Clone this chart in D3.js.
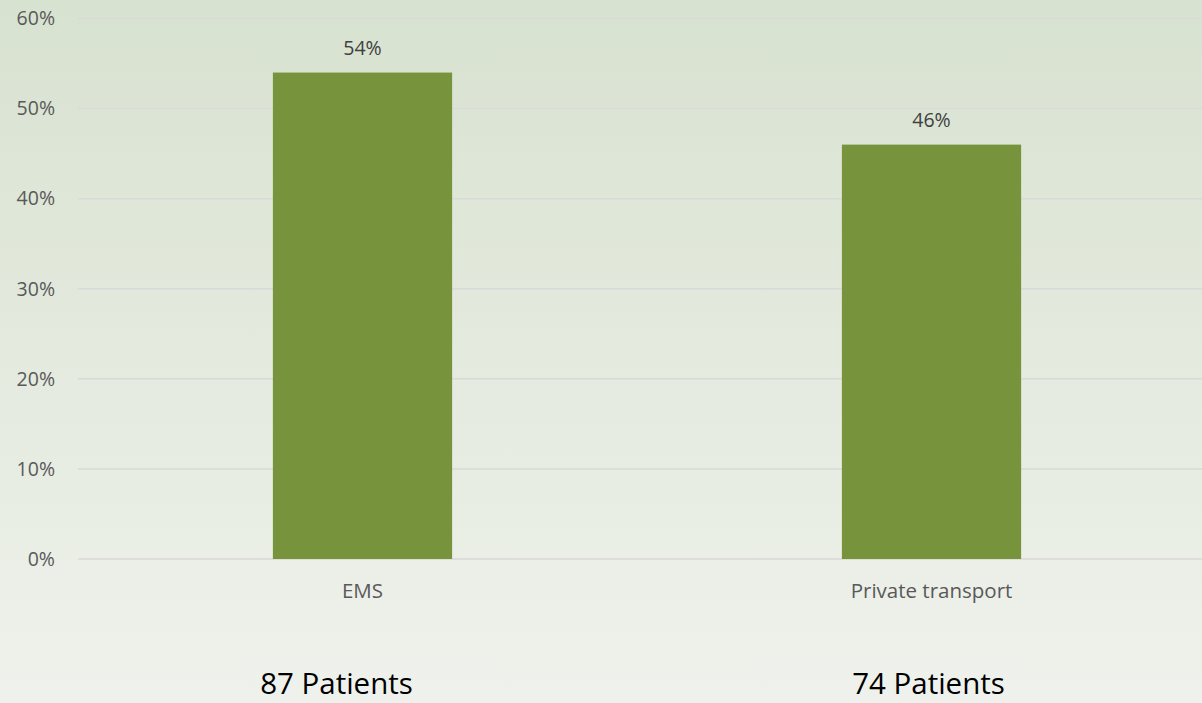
<!DOCTYPE html>
<html>
<head>
<meta charset="utf-8">
<script src="https://cdn.jsdelivr.net/npm/d3@7"></script>
<style>
  html, body { margin: 0; padding: 0; }
  body { width: 1202px; height: 703px; overflow: hidden; }
  svg { display: block; }
</style>
</head>
<body>
<svg id="chart" width="1202" height="703"></svg>
<script>
// Arrival mode share
const categories = ["EMS", "Private transport"];
const shares = [0.54, 0.46];
const patientCounts = ["87 Patients", "74 Patients"];
const yTicks = [0, 0.1, 0.2, 0.3, 0.4, 0.5, 0.6];

const W = 1202, H = 703;
const svg = d3.select("#chart");

// soft green vertical gradient background
const defs = svg.append("defs");
const grad = defs.append("linearGradient")
  .attr("id", "bg").attr("x1", 0).attr("y1", 0).attr("x2", 0).attr("y2", 1);
grad.append("stop").attr("offset", "0%").attr("stop-color", "#d8e2d0");
grad.append("stop").attr("offset", "100%").attr("stop-color", "#eff2ec");
svg.append("rect").attr("width", W).attr("height", H).attr("fill", "url(#bg)");

const x = d3.scaleBand().domain(categories).range([78, 1216]).paddingInner(0.685).paddingOuter(0.3425);
const y = d3.scaleLinear().domain([0, 0.6]).range([559, 18.5]);

const font = "'Open Sans', 'Noto Sans', sans-serif";

// gridlines
svg.append("g").selectAll("line").data(yTicks).join("line")
  .attr("x1", 78).attr("x2", W)
  .attr("y1", d => y(d)).attr("y2", d => y(d))
  .attr("stroke", "#d9d9d9").attr("stroke-width", 1.5);

// y-axis tick labels
const yAxis = d3.axisLeft(y).tickValues(yTicks).tickFormat(d3.format(".0%")).tickSize(0).tickPadding(0);
const gy = svg.append("g").attr("transform", "translate(55,0)").call(yAxis);
gy.select(".domain").remove();
gy.selectAll("text")
  .attr("font-family", font).attr("font-size", 19.5).attr("fill", "#595959");

// bars
svg.append("g").selectAll("rect").data(categories).join("rect")
  .attr("x", d => x(d))
  .attr("width", x.bandwidth())
  .attr("y", (d, i) => y(shares[i]))
  .attr("height", (d, i) => y(0) - y(shares[i]))
  .attr("fill", "#77933c");

// value labels
svg.append("g").selectAll("text").data(categories).join("text")
  .attr("x", d => x(d) + x.bandwidth() / 2)
  .attr("y", (d, i) => y(shares[i]) - 18)
  .attr("text-anchor", "middle")
  .attr("font-family", font).attr("font-size", 19.5).attr("fill", "#404040")
  .text((d, i) => d3.format(".0%")(shares[i]));

// category axis labels
const xAxis = d3.axisBottom(x).tickSize(0).tickPadding(0);
const gx = svg.append("g").attr("transform", "translate(0,598)").call(xAxis);
gx.select(".domain").remove();
gx.selectAll("text")
  .attr("dy", 0)
  .attr("font-family", font).attr("font-size", 20.5).attr("fill", "#595959");

// patient counts under each category
svg.append("g").selectAll("text").data(categories).join("text")
  .attr("x", (d, i) => x(d) + x.bandwidth() / 2 + (i === 0 ? -26 : -3))
  .attr("y", 694)
  .attr("text-anchor", "middle")
  .attr("font-family", font).attr("font-size", 29.5).attr("fill", "#000")
  .text((d, i) => patientCounts[i]);
</script>
</body>
</html>
